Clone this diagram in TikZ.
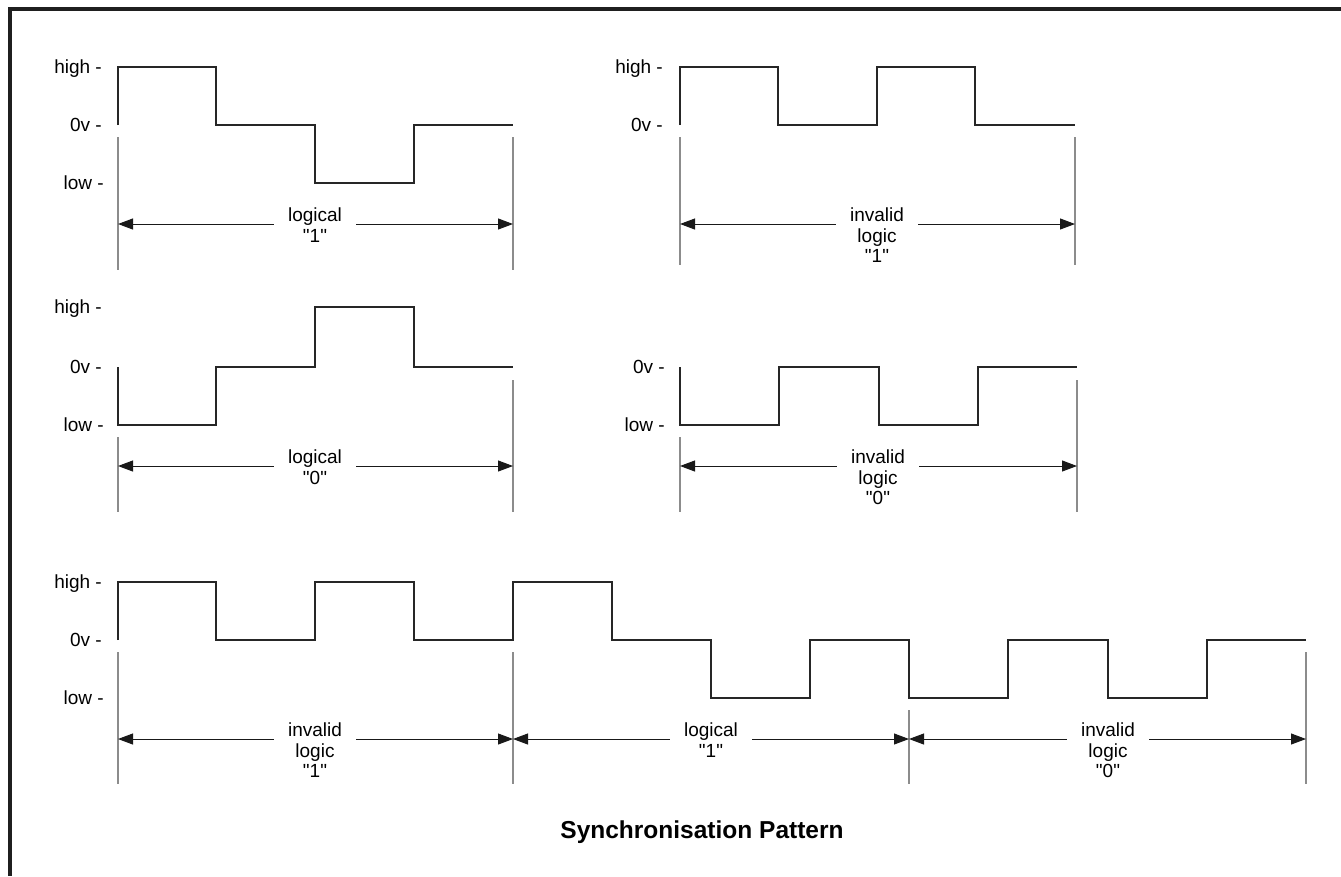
\documentclass[tikz,border=0pt]{standalone}
\usepackage{fontspec}
\setmainfont{Liberation Sans}
\usetikzlibrary{arrows.meta}
\newcommand{\qv}[1]{\textquotedbl#1\textquotedbl}
\tikzset{
  frame/.style={line width=3.5pt,draw=black!88},
  sig/.style={line width=2.6pt,draw=black!85},
  ext/.style={line width=1.2pt,draw=black!45},
  dim/.style={line width=1pt,draw=black!90,-{Triangle[length=15pt,width=11pt]}},
  lvl/.style={anchor=base east,inner sep=0pt,font=\fontsize{19}{19}\selectfont},
  lbl/.style={anchor=north,align=center,inner xsep=14pt,inner ysep=0pt,font=\fontsize{19}{20.5}\selectfont},
}
\begin{document}
\begin{tikzpicture}[x=1pt,y=-1pt]
\useasboundingbox (0,0) rectangle (1341,876);
\draw[frame] (1341,9) -- (10,9) -- (10,876);

% logical "1"
\node[lvl] (hi1) at (102,73) {high -};
\node[lvl] (zv1) at (102,131) {0v -};
\node[lvl] (lo1) at (104,189) {low -};
\draw[ext] (118,137) -- (118,270);
\draw[ext] (513,137) -- (513,270);
\draw[sig] (118,125) |- (216,67) |- (315,125) |- (414,183) |- (513,125);
\coordinate (d1l) at (118,224);
\coordinate (d1r) at (513,224);
\node[lbl] (t1) at (315,208) {logical\\\qv{1}};
\draw[dim] (t1.west |- d1l) -- (d1l);
\draw[dim] (t1.east |- d1r) -- (d1r);

% invalid logic "1"
\node[lvl] (hi2) at (663,73) {high -};
\node[lvl] (zv2) at (663,131) {0v -};
\draw[ext] (680,137) -- (680,265);
\draw[ext] (1075,137) -- (1075,265);
\draw[sig] (680,125) |- (778,67) |- (877,125) |- (975,67) |- (1075,125);
\coordinate (d2l) at (680,224);
\coordinate (d2r) at (1075,224);
\node[lbl] (t2) at (877,208) {invalid\\logic\\\qv{1}};
\draw[dim] (t2.west |- d2l) -- (d2l);
\draw[dim] (t2.east |- d2r) -- (d2r);

% logical "0"
\node[lvl] (hi3) at (102,313) {high -};
\node[lvl] (zv3) at (102,373) {0v -};
\node[lvl] (lo3) at (104,431) {low -};
\draw[ext] (118,437) -- (118,512);
\draw[ext] (513,380) -- (513,512);
\draw[sig] (118,367) |- (216,425) |- (315,367) |- (414,307) |- (513,367);
\coordinate (d3l) at (118,466);
\coordinate (d3r) at (513,466);
\node[lbl] (t3) at (315,450) {logical\\\qv{0}};
\draw[dim] (t3.west |- d3l) -- (d3l);
\draw[dim] (t3.east |- d3r) -- (d3r);

% invalid logic "0"
\node[lvl] (zv4) at (665,373) {0v -};
\node[lvl] (lo4) at (665,431) {low -};
\draw[ext] (680,437) -- (680,512);
\draw[ext] (1077,380) -- (1077,512);
\draw[sig] (680,367) |- (779,425) |- (879,367) |- (978,425) |- (1077,367);
\coordinate (d4l) at (680,466);
\coordinate (d4r) at (1077,466);
\node[lbl] (t4) at (878,450) {invalid\\logic\\\qv{0}};
\draw[dim] (t4.west |- d4l) -- (d4l);
\draw[dim] (t4.east |- d4r) -- (d4r);

% synchronisation pattern
\node[lvl] (hi5) at (102,588) {high -};
\node[lvl] (zv5) at (102,646) {0v -};
\node[lvl] (lo5) at (104,704) {low -};
\draw[ext] (118,652) -- (118,784);
\draw[ext] (513,652) -- (513,784);
\draw[ext] (909,710) -- (909,784);
\draw[ext] (1306,652) -- (1306,784);
\draw[sig] (118,640) |- (216,582) |- (315,640) |- (414,582) |- (513,640)
  |- (612,582) |- (711,640) |- (810,698) |- (909,640) |- (1008,698)
  |- (1108,640) |- (1207,698) |- (1306,640);
\coordinate (d5a) at (118,739);
\coordinate (d5b) at (513,739);
\coordinate (d5c) at (909,739);
\coordinate (d5d) at (1306,739);
\node[lbl] (t5) at (315,723) {invalid\\logic\\\qv{1}};
\node[lbl] (t6) at (711,723) {logical\\\qv{1}};
\node[lbl] (t7) at (1108,723) {invalid\\logic\\\qv{0}};
\draw[dim] (t5.west |- d5a) -- (d5a);
\draw[dim] (t5.east |- d5b) -- (d5b);
\draw[dim] (t6.west |- d5b) -- (d5b);
\draw[dim] (t6.east |- d5c) -- (d5c);
\draw[dim] (t7.west |- d5c) -- (d5c);
\draw[dim] (t7.east |- d5d) -- (d5d);

\node[font=\bfseries\fontsize{24.5}{28}\selectfont] (title) at (702,832) {Synchronisation Pattern};
\end{tikzpicture}
\end{document}
